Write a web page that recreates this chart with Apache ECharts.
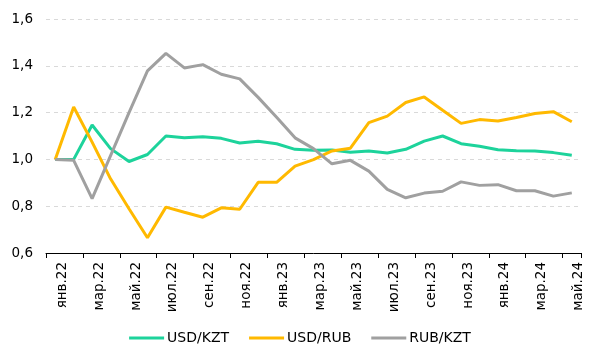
<!DOCTYPE html>
<html><head><meta charset="utf-8">
<script src="https://cdn.jsdelivr.net/npm/echarts@6/dist/echarts.min.js"></script>
<style>html,body{margin:0;padding:0;background:#fff}#c{width:600px;height:361px}</style>
</head><body><div id="c"></div>
<script>
const categories = ['янв.22','фев.22','мар.22','апр.22','май.22','июн.22','июл.22','авг.22','сен.22','окт.22','ноя.22','дек.22',
  'янв.23','фев.23','мар.23','апр.23','май.23','июн.23','июл.23','авг.23','сен.23','окт.23','ноя.23','дек.23',
  'янв.24','фев.24','мар.24','апр.24','май.24'];
const usdKzt = [1.000,1.000,1.147,1.046,0.991,1.021,1.100,1.093,1.097,1.090,1.070,1.078,
  1.067,1.043,1.039,1.040,1.031,1.036,1.027,1.043,1.078,1.100,1.067,1.056,
  1.041,1.037,1.036,1.029,1.018];
const usdRub = [1.000,1.224,1.074,0.917,0.789,0.665,0.796,0.774,0.753,0.793,0.787,0.902,
  0.902,0.971,0.999,1.036,1.048,1.157,1.185,1.243,1.267,1.210,1.154,1.170,
  1.164,1.179,1.196,1.204,1.161];
const rubKzt = [1.000,0.996,0.832,1.016,1.200,1.378,1.453,1.391,1.405,1.364,1.344,1.265,
  1.180,1.092,1.046,0.981,0.996,0.950,0.872,0.836,0.856,0.864,0.904,0.889,
  0.892,0.866,0.866,0.843,0.857];
const seriesNames = ['USD/KZT','USD/RUB','RUB/KZT'];
const colors = ['#1DD39B','#FFB900','#A0A0A0'];
const yTicks = {min:0.6, max:1.6, interval:0.2};

const font = 'Verdana, "DejaVu Sans", sans-serif';
const chart = echarts.init(document.getElementById('c'));
const mk = (name, data, color) => ({
  name, type:'line', data, symbol:'none', smooth:false,
  lineStyle:{color, width:3}, itemStyle:{color}
});
chart.setOption({
  animation:false,
  color: colors,
  grid:{left:46, right:19, top:19, bottom:108},
  legend:{
    top:326, left:'center', itemWidth:35, itemHeight:3, itemGap:20,
    icon:'rect',
    textStyle:{fontFamily:font, fontSize:14, color:'#000', padding:[0,0,0,-2]},
    data: seriesNames
  },
  xAxis:{
    type:'category', data:categories, boundaryGap:true,
    axisLine:{lineStyle:{color:'#000', width:1}},
    axisTick:{show:true, interval:1, length:5, lineStyle:{color:'#000'}},
    axisLabel:{interval:1, rotate:90, fontFamily:font, fontSize:13.5, color:'#000', margin:9,
      verticalAlign:'top'},
    splitLine:{show:false}
  },
  yAxis:{
    type:'value', min:yTicks.min, max:yTicks.max, interval:yTicks.interval,
    axisLine:{show:false}, axisTick:{show:false},
    axisLabel:{fontFamily:font, fontSize:13.5, color:'#000', margin:13,
      formatter:v=>v.toFixed(1).replace('.',',')},
    splitLine:{lineStyle:{color:'#D9D9D9', type:[4,4], width:1}}
  },
  series:[mk(seriesNames[0],usdKzt,colors[0]), mk(seriesNames[1],usdRub,colors[1]), mk(seriesNames[2],rubKzt,colors[2])]
});
</script></body></html>
